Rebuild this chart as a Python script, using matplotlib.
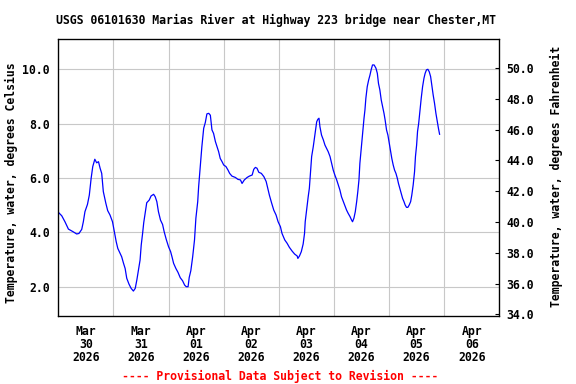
import matplotlib
matplotlib.use("Agg")
import matplotlib.pyplot as plt
import matplotlib.dates as mdates
import pandas as pd

# ==================== DATA ====================
start = "2026-03-30"
hours = [
    0, 1.5, 2.9, 4.4, 6.5, 8.0, 9.0, 10.2, 10.9, 11.6, 12.7, 13.5, 14.3, 15.0, 15.9,
    16.7, 17.5, 18.2, 18.9, 19.6, 20.7, 21.5, 22.5, 23.6, 24.4, 25.2, 25.9, 26.9, 27.6,
    28.4, 29.1, 29.8, 30.8, 31.7, 32.7, 33.5, 34.2, 34.9, 35.6, 36.1, 36.7, 37.2, 37.8,
    38.5, 39.6, 40.4, 41.5, 42.2, 42.9, 43.6, 44.5, 45.4, 46.1, 47.0, 48.0, 48.9, 49.5,
    50.2, 51.2, 52.1, 53.1, 54.1, 55.0, 55.7, 56.5, 57.0, 57.7, 58.5, 59.3, 59.9, 60.7,
    61.1, 61.8, 62.5, 63.3, 64.0, 64.7, 65.5, 66.2, 66.9, 67.6, 68.4, 69.1, 69.8, 70.5,
    71.3, 72.0, 73.0, 73.9, 74.6, 75.6, 77.1, 78.2, 79.3, 80.0, 81.0, 82.2, 83.2, 84.4,
    85.1, 85.8, 86.5, 87.3, 88.4, 89.5, 90.5, 91.2, 91.9, 92.8, 93.8, 94.8, 95.7, 96.7,
    97.4, 98.6, 99.6, 100.6, 101.8, 102.9, 104.0, 104.3, 105.0, 105.8, 106.6, 107.2,
    107.5, 108.1, 108.8, 109.3, 109.8, 110.3, 111.0, 111.4, 111.9, 112.5, 113.0, 113.5,
    113.9, 114.6, 115.4, 116.1, 116.8, 117.5, 118.3, 119.0, 119.7, 120.4, 121.2, 121.9,
    122.6, 123.3, 124.1, 124.8, 125.5, 126.2, 127.0, 127.7, 128.1, 128.7, 129.3, 129.9,
    130.4, 130.9, 131.3, 131.9, 132.5, 133.1, 133.5, 133.9, 134.5, 135.1, 135.7, 136.2,
    136.8, 137.5, 138.3, 138.9, 139.4, 140.0, 140.6, 141.2, 141.8, 142.3, 142.9, 143.5,
    144.1, 144.7, 145.2, 145.8, 146.4, 147.0, 147.6, 148.1, 148.7, 149.3, 149.9, 150.5,
    151.0, 151.6, 152.2, 152.8, 153.4, 153.9, 154.5, 155.1, 155.5, 156.0, 156.4, 156.9,
    157.4, 158.0, 158.6, 159.2, 159.7, 160.3, 160.9, 161.5, 162.1, 162.6, 163.2, 163.8,
    164.4, 165.0, 165.5, 166.0,
]
temp_c = [
    4.74, 4.61, 4.39, 4.12, 4.02, 3.94, 3.96, 4.11, 4.39, 4.76, 5.03, 5.37, 5.99, 6.42, 6.69,
    6.56, 6.60, 6.36, 6.17, 5.50, 5.07, 4.80, 4.64, 4.39, 4.02, 3.66, 3.41, 3.23, 3.10,
    2.86, 2.67, 2.31, 2.09, 1.94, 1.84, 1.94, 2.25, 2.61, 2.98, 3.53, 3.96, 4.36, 4.70,
    5.09, 5.19, 5.34, 5.40, 5.31, 5.13, 4.76, 4.45, 4.29, 4.02, 3.74, 3.47, 3.29, 3.10,
    2.86, 2.67, 2.53, 2.33, 2.22, 2.06, 2.00, 2.00, 2.34, 2.59, 3.10, 3.72, 4.52, 5.13,
    5.68, 6.42, 7.15, 7.83, 8.04, 8.36, 8.38, 8.31, 7.77, 7.64, 7.34, 7.15, 6.97, 6.72,
    6.60, 6.48, 6.42, 6.29, 6.17, 6.07, 6.02, 5.95, 5.93, 5.80, 5.93, 6.02, 6.07, 6.11,
    6.32, 6.39, 6.36, 6.21, 6.17, 6.05, 5.87, 5.62, 5.37, 5.10, 4.82, 4.64, 4.39, 4.21,
    3.96, 3.72, 3.60, 3.45, 3.31, 3.20, 3.13, 3.04, 3.13, 3.29, 3.57, 3.96,
    4.39, 4.82, 5.31, 5.62, 6.23, 6.79, 7.15, 7.40, 7.71, 8.07, 8.16, 8.20,
    7.89, 7.58, 7.40, 7.21, 7.09, 6.97, 6.79, 6.54, 6.29, 6.11, 5.93, 5.74,
    5.56, 5.31, 5.13, 4.98, 4.82, 4.70, 4.58, 4.45, 4.39, 4.52, 4.76, 5.13,
    5.50, 5.93, 6.54, 7.09, 7.64, 8.20, 8.50, 8.93, 9.36, 9.60, 9.79, 9.98,
    10.16, 10.16, 10.04, 9.85, 9.48, 9.24, 8.87, 8.63, 8.38, 8.13, 7.77, 7.58,
    7.28, 6.97, 6.72, 6.48, 6.29, 6.17, 5.99, 5.80, 5.62, 5.44, 5.25, 5.13,
    5.01, 4.92, 4.92, 5.01, 5.13, 5.37, 5.74, 6.23, 6.79, 7.21, 7.71, 8.01,
    8.44, 8.93, 9.36, 9.67, 9.85, 9.98, 10.00, 9.91, 9.73, 9.42, 9.06, 8.75,
    8.38, 8.07, 7.83, 7.61,
]
c_ticks = [2, 4, 6, 8, 10]
f_ticks = [34, 36, 38, 40, 42, 44, 46, 48, 50]

title = "USGS 06101630 Marias River at Highway 223 bridge near Chester,MT"
left_label = "Temperature, water, degrees Celsius"
right_label = "Temperature, water, degrees Fahrenheit"
footer = "---- Provisional Data Subject to Revision ----"

times = pd.Timestamp(start) + pd.to_timedelta(hours, unit="h")

# ==================== PLOT ====================
font = dict(family="DejaVu Sans Mono", weight="bold", size=8.3)

fig = plt.figure(figsize=(5.76, 3.84), dpi=100)
ax = fig.add_axes([58.3/576, 1-315.7/384, 441/576, 276.4/384])

ax.plot(times, temp_c, color="#0000ff", lw=0.9)

ax.set_xlim(pd.Timestamp(start), pd.Timestamp("2026-04-07"))
ax.set_ylim(0.933, 11.104)
ax.set_yticks(c_ticks)
ax.set_yticklabels([f"{v:.1f}" for v in c_ticks], **font)

ax.xaxis.set_major_locator(mdates.HourLocator(byhour=12))
ax.xaxis.set_major_formatter(mdates.DateFormatter("%b\n%d\n%Y"))
ax.xaxis.set_minor_locator(mdates.DayLocator())
for lab in ax.get_xticklabels():
    lab.set_fontproperties(matplotlib.font_manager.FontProperties(**font))
ax.tick_params(axis="x", which="both", length=0, pad=7)
ax.tick_params(axis="y", length=0, pad=6)
for lab in ax.xaxis.get_majorticklabels():
    lab.set_linespacing(1.0)

ax.grid(True, axis="y", color="#c8c8c8", lw=0.8)
ax.grid(True, axis="x", which="minor", color="#c8c8c8", lw=0.8)
ax.grid(False, axis="x", which="major")
ax.set_axisbelow(True)
for s in ax.spines.values():
    s.set_linewidth(0.9)

ax2 = ax.twinx()
ax2.set_ylim(33.91, 51.86)
ax2.set_yticks(f_ticks)
ax2.set_yticklabels([f"{v:.1f}" for v in f_ticks], **font)
ax2.tick_params(axis="y", direction="in", length=3, width=0.8, pad=5)

fig.text(276/576, 1-20.5/384, title, ha="center", va="center", **font)
fig.text(11/576, 1-182.5/384, left_label, rotation=90, ha="center", va="center", **font)
fig.text(556.5/576, 1-176.5/384, right_label, rotation=90, ha="center", va="center", **font)
fig.text(280/576, 1-376.3/384, footer, ha="center", va="center", color="#ff0000", **font)

fig.savefig("out.png", dpi=100)
